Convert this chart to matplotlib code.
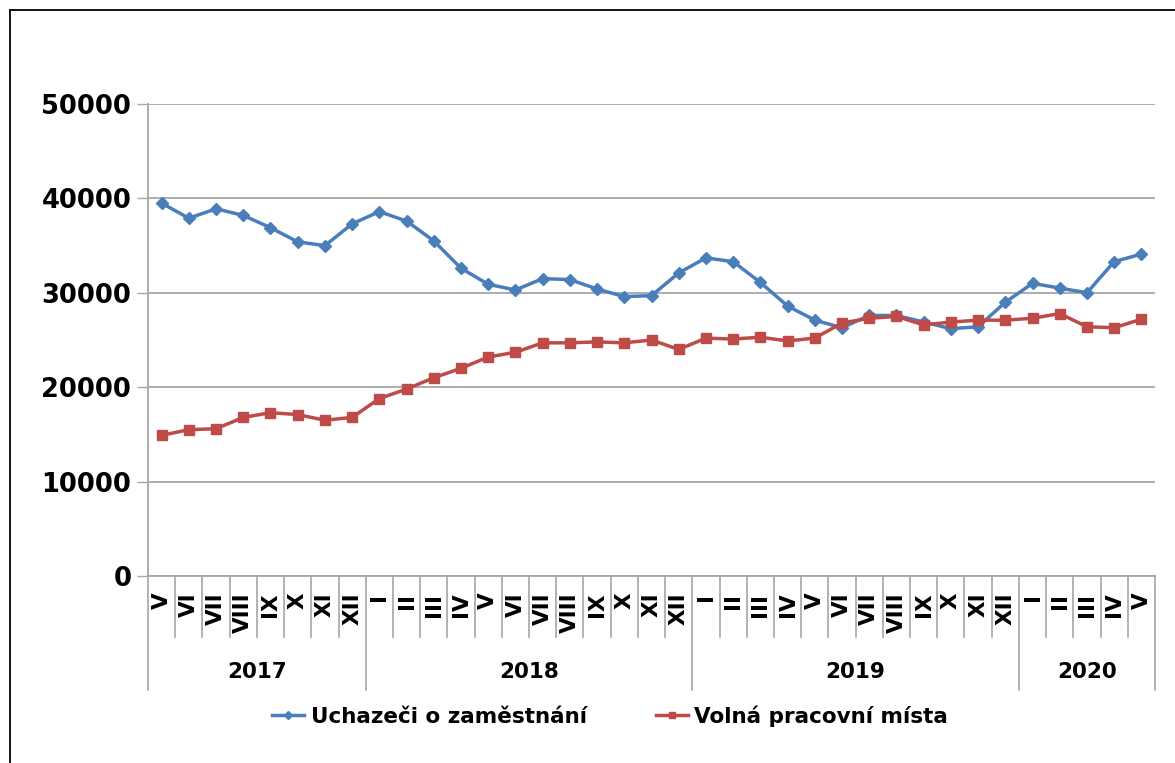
import matplotlib.pyplot as plt
from matplotlib.lines import Line2D
from matplotlib.transforms import blended_transform_factory

# month labels (roman) and year groups
months = ['V', 'VI', 'VII', 'VIII', 'IX', 'X', 'XI', 'XII',
          'I', 'II', 'III', 'IV', 'V', 'VI', 'VII', 'VIII', 'IX', 'X', 'XI', 'XII',
          'I', 'II', 'III', 'IV', 'V', 'VI', 'VII', 'VIII', 'IX', 'X', 'XI', 'XII',
          'I', 'II', 'III', 'IV', 'V']
years = ['2017', '2018', '2019', '2020']
year_lengths = [8, 12, 12, 5]

# series values
uchazeci = [39500, 37900, 38900, 38200, 36900, 35400, 35000, 37300,
            38600, 37600, 35500, 32600, 30900, 30300, 31500, 31400, 30400, 29600, 29700, 32100,
            33700, 33300, 31100, 28600, 27100, 26300, 27600, 27600, 26900, 26200, 26400, 29000,
            31000, 30500, 30000, 33300, 34100]
volna = [14900, 15500, 15600, 16800, 17300, 17100, 16500, 16800,
         18800, 19800, 21000, 22000, 23200, 23700, 24700, 24700, 24800, 24700, 25000, 24000,
         25200, 25100, 25300, 24900, 25200, 26800, 27300, 27500, 26600, 26900, 27100, 27100,
         27300, 27800, 26400, 26300, 27200]

blue = '#4A7EBB'
red = '#BE4B48'
grid_c = '#A6A6A6'

plt.rcParams['font.family'] = ['DejaVu Sans']
plt.rcParams['font.weight'] = 'bold'

fig = plt.figure(figsize=(11.75, 7.63), dpi=100)
ax = fig.add_axes([148 / 1175, 1 - 576 / 763, (1155 - 148) / 1175, (576 - 104) / 763])

x = list(range(len(months)))
ax.plot(x, uchazeci, color=blue, lw=2.5, marker='D', ms=6, label='Uchazeči o zaměstnání')
ax.plot(x, volna, color=red, lw=2.5, marker='s', ms=6.5, label='Volná pracovní místa')

ax.set_xlim(-0.5, len(months) - 0.5)
ax.set_ylim(0, 50000)
ax.set_yticks(range(0, 50001, 10000))
ax.yaxis.grid(True, color=grid_c, lw=1.3)
ax.set_axisbelow(True)
ax.tick_params(axis='y', length=8, color=grid_c, width=1, labelsize=18.5, pad=4)
for lbl in ax.get_yticklabels():
    lbl.set_fontweight('bold')

ax.set_xticks(x)
ax.set_xticklabels(months, rotation=90, va='top', fontsize=15.5, fontweight='bold')
ax.tick_params(axis='x', length=0, pad=12)

for s in ['top', 'right']:
    ax.spines[s].set_visible(False)
ax.spines['left'].set_color(grid_c)
ax.spines['bottom'].set_color(grid_c)
ax.spines['left'].set_linewidth(1.3)
ax.spines['bottom'].set_linewidth(1.3)

# category separators and year groups below the axis
tr = blended_transform_factory(ax.transData, ax.transAxes)
bounds = [-0.5]
for n in year_lengths:
    bounds.append(bounds[-1] + n)
for k in range(len(months) + 1):
    pos = k - 0.5
    depth = -0.2415 if pos in bounds else -0.129
    ax.plot([pos, pos], [0, depth], transform=tr, color=grid_c, lw=1.2, clip_on=False)
for i, yr in enumerate(years):
    ax.text((bounds[i] + bounds[i + 1]) / 2, -0.203, yr, transform=tr,
            ha='center', va='center', fontsize=15.5, fontweight='bold')

# legend
handles = [Line2D([0], [0], color=blue, lw=2.5, marker='D', ms=4.5),
           Line2D([0], [0], color=red, lw=2.5, marker='s', ms=4.5)]
fig.legend(handles, ['Uchazeči o zaměstnání', 'Volná pracovní místa'],
           loc='center', bbox_to_anchor=(610 / 1175, 1 - 716 / 763), ncol=2,
           frameon=False, handlelength=1.5, handletextpad=0.3,
           columnspacing=3.2, prop={'weight': 'bold', 'size': 15.5})

# outer frame (top and left edges visible)
fig.add_artist(Line2D([10 / 1175, 1], [1 - 10 / 763, 1 - 10 / 763], transform=fig.transFigure,
                      color='black', lw=1.3))
fig.add_artist(Line2D([10 / 1175, 10 / 1175], [0, 1 - 10 / 763], transform=fig.transFigure,
                      color='black', lw=1.3))

fig.savefig('out.png', dpi=100, facecolor='white')
